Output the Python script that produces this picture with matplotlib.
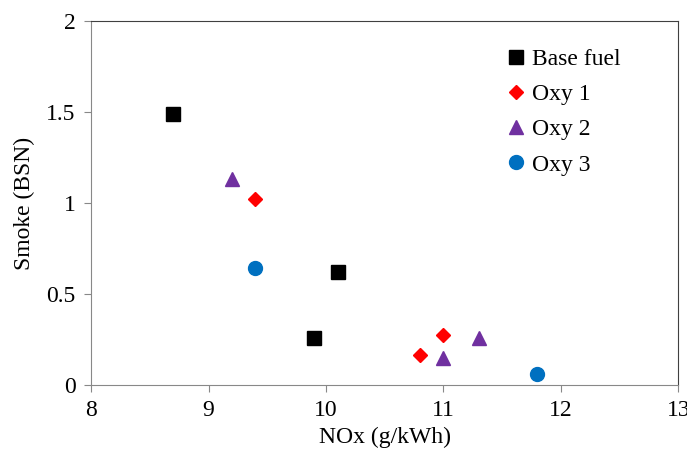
import matplotlib.pyplot as plt

# data
base_x = [8.7, 10.1, 9.9]
base_y = [1.49, 0.62, 0.26]
oxy1_x = [9.4, 11.0, 10.8]
oxy1_y = [1.02, 0.275, 0.165]
oxy2_x = [9.2, 11.0, 11.3]
oxy2_y = [1.13, 0.15, 0.26]
oxy3_x = [9.4, 11.8]
oxy3_y = [0.645, 0.06]

plt.rcParams['font.family'] = ['Liberation Serif', 'DejaVu Serif']
plt.rcParams['font.size'] = 17

fig = plt.figure(figsize=(6.87, 4.59), dpi=100)
ax = fig.add_axes([0.1325, 0.161, 0.855, 0.793])

ax.plot(base_x, base_y, 's', color='black', markersize=10, label='Base fuel', linestyle='none')
ax.plot(oxy1_x, oxy1_y, 'D', color='#FF0000', markersize=7, label='Oxy 1', linestyle='none')
ax.plot(oxy2_x, oxy2_y, '^', color='#7030A0', markersize=10, label='Oxy 2', linestyle='none')
ax.plot(oxy3_x, oxy3_y, 'o', color='#0070C0', markersize=10, label='Oxy 3', linestyle='none')

ax.set_xlim(8, 13)
ax.set_ylim(0, 2)
ax.set_xticks([8, 9, 10, 11, 12, 13])
ax.set_yticks([0, 0.5, 1, 1.5, 2])
ax.set_yticklabels(['0', '0.5', '1', '1.5', '2'])

for s in ['left', 'bottom']:
    ax.spines[s].set_color('#888888')
for s in ['top', 'right']:
    ax.spines[s].set_color('#404040')
ax.tick_params(direction='out', length=5, color='#888888', pad=6)

ax.set_xlabel('NOx (g/kWh)', labelpad=4)
ax.set_ylabel('Smoke (BSN)', labelpad=8)

ax.legend(loc='upper right', frameon=False, handlelength=0.8, handletextpad=0.3,
          labelspacing=0.58, borderaxespad=0.6, bbox_to_anchor=(0.942, 0.99))

fig.savefig('out.png', dpi=100)
